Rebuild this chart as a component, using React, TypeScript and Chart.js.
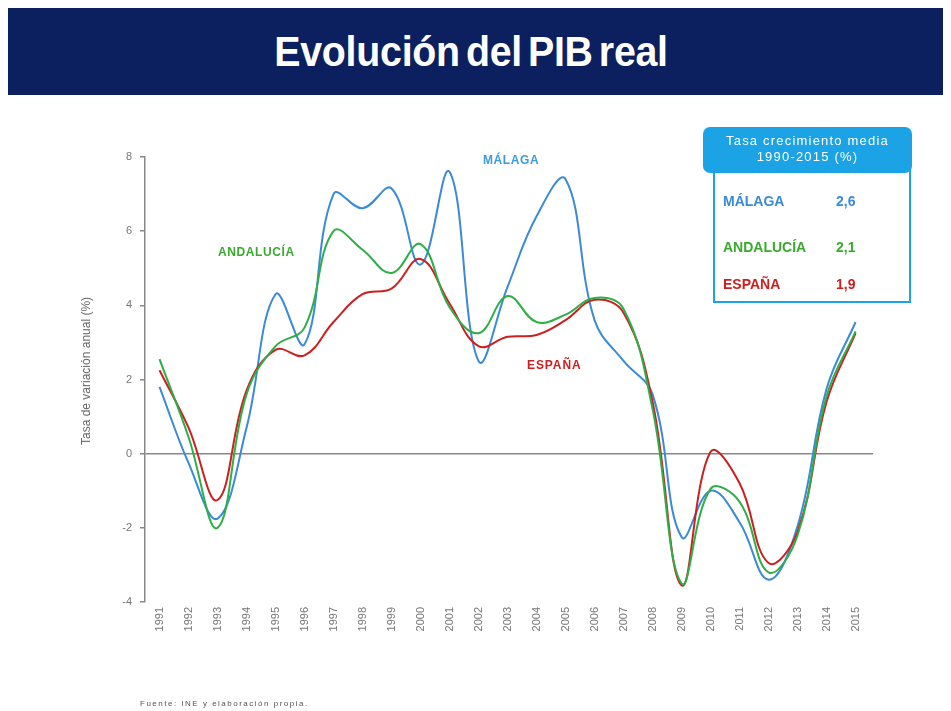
import React, { useEffect, useRef } from "react";
import { Chart, registerables } from "chart.js";

Chart.register(...registerables);

// ---- Data ----
const years = [
  1991, 1992, 1993, 1994, 1995, 1996, 1997, 1998, 1999, 2000, 2001, 2002, 2003,
  2004, 2005, 2006, 2007, 2008, 2009, 2010, 2011, 2012, 2013, 2014, 2015,
];
const malaga = [
  1.8, -0.25, -1.75, 0.7, 4.3, 2.95, 7.0, 6.62, 7.15, 5.1, 7.6, 2.5, 4.5, 6.4,
  7.4, 3.6, 2.5, 1.6, -2.25, -1.0, -1.85, -3.4, -1.95, 1.75, 3.55,
];
const andalucia = [
  2.55, 0.45, -2.0, 1.6, 2.9, 3.4, 6.0, 5.5, 4.87, 5.65, 3.95, 3.25, 4.25, 3.55,
  3.75, 4.2, 3.9, 1.2, -3.5, -0.95, -1.3, -3.2, -2.2, 1.55, 3.3,
];
const espana = [
  2.25, 0.7, -1.25, 1.7, 2.8, 2.65, 3.55, 4.3, 4.45, 5.25, 4.05, 2.9, 3.15, 3.2,
  3.6, 4.15, 3.8, 1.4, -3.55, 0.05, -0.8, -2.95, -2.1, 1.4, 3.25,
];
const yTicks = [-4, -2, 0, 2, 4, 6, 8];
const legendNames = ["MÁLAGA", "ANDALUCÍA", "ESPAÑA"];
const legendRates = ["2,6", "2,1", "1,9"];

const C_MAL = "#3a8ad6";
const C_AND = "#2fae48";
const C_ESP = "#cc2020";
const C_HEAD = "#1ba3e6";
const FONT = "'Liberation Sans', Arial, sans-serif";

export default function App() {
  const ref = useRef<HTMLCanvasElement>(null);

  useEffect(() => {
    const mk = (vals: number[]) => years.map((y, i) => ({ x: y, y: vals[i] }));
    const chart = new Chart(ref.current!, {
      type: "line",
      data: {
        datasets: [
          { label: "ANDALUCÍA", data: mk(andalucia), borderColor: C_AND, borderWidth: 2, pointRadius: 0, tension: 0.4, fill: false },
          { label: "ESPAÑA", data: mk(espana), borderColor: C_ESP, borderWidth: 2, pointRadius: 0, tension: 0.4, fill: false },
          { label: "MÁLAGA", data: mk(malaga), borderColor: C_MAL, borderWidth: 2, pointRadius: 0, tension: 0.4, fill: false },
        ],
      },
      options: {
        animation: false,
        responsive: false,
        layout: { padding: { top: 157, right: 78, bottom: 59, left: 0 } },
        plugins: { legend: { display: false }, tooltip: { enabled: false } },
        scales: {
          x: {
            type: "linear",
            min: 1990.5,
            max: 2015.6,
            afterBuildTicks: (s: any) => {
              s.ticks = years.map((v) => ({ value: v }));
            },
            afterFit: (s: any) => {
              s.height = 50;
            },
            ticks: {
              autoSkip: false,
              minRotation: 90,
              maxRotation: 90,
              padding: 5,
              color: "#777",
              font: { size: 11, family: FONT },
              callback: (v: any) => String(v),
            },
            grid: { display: false, drawTicks: false },
            border: { display: false },
          },
          y: {
            min: -4,
            max: 8,
            afterBuildTicks: (s: any) => {
              s.ticks = yTicks.map((v) => ({ value: v }));
            },
            afterFit: (s: any) => {
              s.width = 145;
            },
            ticks: {
              padding: 8,
              color: "#777",
              font: { size: 11, family: FONT },
              callback: (v: any) => String(v),
            },
            grid: {
              color: (c: any) => (c.tick && c.tick.value === 0 ? "#888" : "rgba(0,0,0,0)"),
              lineWidth: 1.5,
              tickColor: "#888",
              tickLength: 5,
            },
            border: { color: "#888", width: 1.5 },
          },
        },
      },
    });
    return () => chart.destroy();
  }, []);

  const abs = (o: any): React.CSSProperties => ({ position: "absolute", whiteSpace: "nowrap", ...o });

  return (
    <div style={{ position: "absolute", left: 0, top: 0, width: 951, height: 711, background: "#fff", overflow: "hidden" }}>
      <div
        style={abs({
          left: 8,
          top: 8,
          width: 935,
          height: 87,
          background: "#0c1f5e",
          display: "flex",
          alignItems: "center",
          justifyContent: "center",
        })}
      >
        <span
          style={{
            display: "inline-block",
            color: "#fff",
            fontFamily: FONT,
            fontWeight: 700,
            fontSize: 43,
            wordSpacing: -5,
            letterSpacing: -0.3,
            transform: "translate(-4px, 0px) scaleX(0.915)",
          }}
        >
          Evolución del PIB real
        </span>
      </div>
      <canvas ref={ref} width={951} height={711} style={{ position: "absolute", left: 0, top: 0, display: "block" }} />

      <div style={abs({ left: 86, top: 371, transform: "translate(-50%,-50%) rotate(-90deg)", fontFamily: FONT, fontSize: 12, color: "#666" })}>
        Tasa de variación anual (%)
      </div>

      <div style={abs({ left: 483, top: 153, fontFamily: FONT, fontWeight: 700, fontSize: 12, letterSpacing: 0.6, color: "#3c9ae0" })}>MÁLAGA</div>
      <div style={abs({ left: 218, top: 245, fontFamily: FONT, fontWeight: 700, fontSize: 12, letterSpacing: 0.6, color: "#3aaa2e" })}>ANDALUCÍA</div>
      <div style={abs({ left: 527, top: 358, fontFamily: FONT, fontWeight: 700, fontSize: 12, letterSpacing: 0.9, color: C_ESP })}>ESPAÑA</div>

      <div
        style={abs({
          left: 713,
          top: 165,
          width: 194,
          height: 134,
          border: `2px solid ${C_HEAD}`,
          background: "#fff",
        })}
      />
      <div
        style={abs({
          left: 703,
          top: 127,
          width: 209,
          height: 46,
          background: C_HEAD,
          borderRadius: 7,
          color: "#fff",
          fontFamily: FONT,
          fontSize: 13,
          letterSpacing: 1.2,
          textAlign: "center",
          lineHeight: "16px",
          paddingTop: 6,
          boxSizing: "border-box",
        })}
      >
        Tasa crecimiento media
        <br />
        1990-2015 (%)
      </div>
      {legendNames.map((n, i) => (
        <React.Fragment key={n}>
          <div style={abs({ left: 723, top: [193, 239, 276][i], fontFamily: FONT, fontWeight: 700, fontSize: 14, color: [C_MAL, "#3aaa2e", C_ESP][i] })}>{n}</div>
          <div style={abs({ left: 836, top: [193, 239, 276][i], fontFamily: FONT, fontWeight: 700, fontSize: 14, color: [C_MAL, "#3aaa2e", C_ESP][i] })}>{legendRates[i]}</div>
        </React.Fragment>
      ))}

      <div style={abs({ left: 140, top: 699, fontFamily: FONT, fontSize: 8, letterSpacing: 1.5, color: "#555" })}>
        Fuente: INE y elaboración propia.
      </div>
    </div>
  );
}
